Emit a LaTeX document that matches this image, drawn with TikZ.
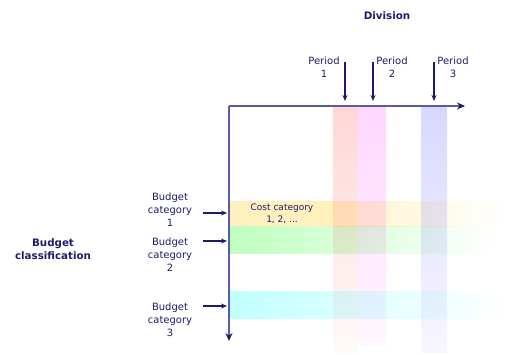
\documentclass[tikz,border=0pt]{standalone}
\usepackage{fontspec}
\setmainfont{DejaVu Sans}
\usetikzlibrary{arrows.meta}
\definecolor{navy}{HTML}{1C1C6C}
\definecolor{axiscol}{HTML}{5A5AA6}
\definecolor{rowA}{HTML}{FFF0BE}
\definecolor{rowB}{HTML}{BEFFBE}
\definecolor{rowC}{HTML}{C0FFFF}
\definecolor{colA}{HTML}{FFD6D6}
\definecolor{colB}{HTML}{FFD6FF}
\definecolor{colC}{HTML}{D8D8FF}
\tikzset{
  lbl/.style={text=navy, font=\fontsize{10}{13}\selectfont, align=center, inner sep=0pt},
  boldlbl/.style={text=navy, font=\fontsize{10.3}{13}\selectfont\bfseries, align=center, inner sep=0pt},
  small/.style={text=navy, font=\fontsize{9}{12}\selectfont, align=center, inner sep=0pt},
  pointer/.style={draw=navy, line width=1.2pt, -{Stealth[length=6pt,width=5pt]}},
  axis/.style={draw=axiscol, line width=1.8pt, -{Stealth[length=8pt,width=7pt,color=navy]}},
}
\begin{document}
\begin{tikzpicture}[x=1pt,y=-1pt]
\useasboundingbox (0,0) rectangle (505,354);
% columns
\shade[top color=colA, bottom color=colA!12] (333,107) rectangle (358,352);
\shade[top color=colB, bottom color=colB!20] (358,107) rectangle (386,345);
\shade[top color=colC, bottom color=colC!20] (421,107) rectangle (447,352);
% rows (multiply)
\begin{scope}[blend mode=multiply]
\fill[rowA] (229,201) rectangle (333,226);
\shade[left color=rowA!85, right color=white] (333,201) rectangle (505,226);
\shade[left color=rowB, right color=white] (229,226) rectangle (497,253);
\shade[left color=rowC, right color=white] (229,291) rectangle (505,318);
\end{scope}
% axes
\coordinate (O) at (229,106);
\coordinate (xend) at (465,106);
\coordinate (yend) at (229,341);
\draw[axis] (O) -- (xend);
\draw[axis] (O) -- (yend);
% titles
\node[boldlbl] (division) at (387,16) {Division};
\node[boldlbl] (budgetclass) at (53,249) {Budget\\classification};
% periods
\node[lbl] (per1) at (324,67) {Period\\1};
\node[lbl] (per2) at (392,67) {Period\\2};
\node[lbl] (per3) at (453,67) {Period\\3};
\coordinate (p1a) at (345,62); \coordinate (p1b) at (345,101);
\coordinate (p2a) at (373,62); \coordinate (p2b) at (373,101);
\coordinate (p3a) at (434,62); \coordinate (p3b) at (434,101);
\draw[pointer] (p1a) -- (p1b);
\draw[pointer] (p2a) -- (p2b);
\draw[pointer] (p3a) -- (p3b);
% budget categories
\node[lbl] (bc1) at (170,210) {Budget\\category\\1};
\node[lbl] (bc2) at (170,255) {Budget\\category\\2};
\node[lbl] (bc3) at (170,320) {Budget\\category\\3};
\coordinate (b1a) at (203,213); \coordinate (b1b) at (227,213);
\coordinate (b2a) at (203,241); \coordinate (b2b) at (227,241);
\coordinate (b3a) at (203,306); \coordinate (b3b) at (227,306);
\draw[pointer] (b1a) -- (b1b);
\draw[pointer] (b2a) -- (b2b);
\draw[pointer] (b3a) -- (b3b);
% cost category
\node[small] (cost) at (282,214) {Cost category\\1, 2, ...};
\end{tikzpicture}
\end{document}
